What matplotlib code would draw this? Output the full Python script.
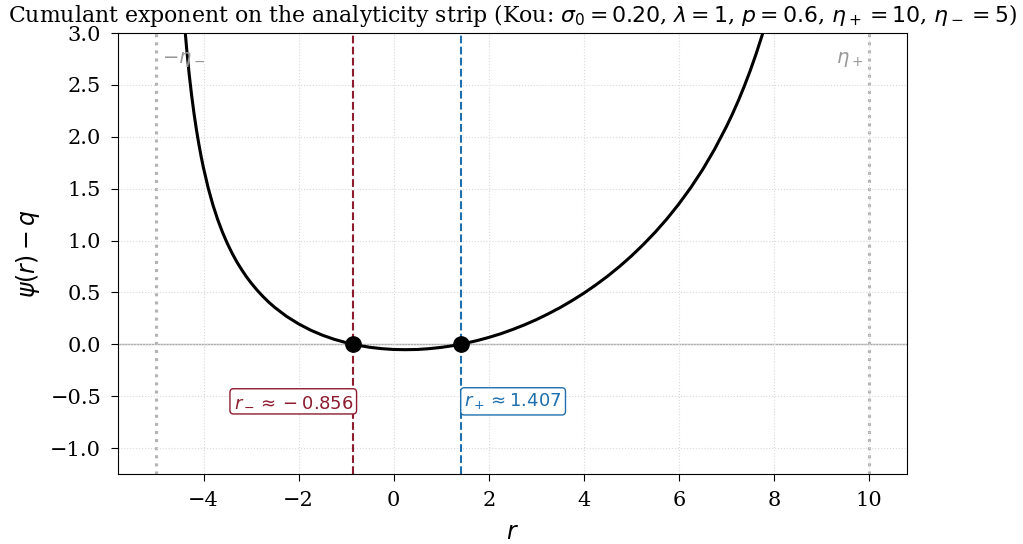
import matplotlib
matplotlib.use("Agg")
import matplotlib.pyplot as plt

plt.rcParams['font.family'] = 'DejaVu Serif'
plt.rcParams['mathtext.fontset'] = 'dejavusans'

# values: r and psi(r) - q
r_vals = [-4.45, -4.425, -4.4, -4.35, -4.3, -4.25, -4.2, -4.15, -4.1, -4.05,
          -4.0, -3.9, -3.8, -3.7, -3.6, -3.5, -3.4, -3.3, -3.2, -3.1, -3.0,
          -2.875, -2.75, -2.625, -2.5, -2.25, -2.0, -1.75, -1.5, -1.25, -1.0,
          -0.75, -0.5, -0.25, 0.0, 0.25, 0.5, 0.75, 1.0, 1.25, 1.5, 1.75,
          2.0, 2.25, 2.5, 2.75, 3.0, 3.25, 3.5, 3.75, 4.0, 4.25, 4.5, 4.75,
          5.0, 5.25, 5.5, 5.75, 6.0, 6.25, 6.5, 6.75, 7.0, 7.125, 7.25,
          7.375, 7.5, 7.625, 7.75, 7.875, 8.0]
psi_vals = [3.398, 3.236, 3.087, 2.824, 2.597, 2.399, 2.225, 2.071, 1.934,
            1.810, 1.699, 1.504, 1.340, 1.200, 1.079, 0.973, 0.879, 0.795,
            0.721, 0.653, 0.592, 0.523, 0.461, 0.405, 0.355, 0.268, 0.197,
            0.137, 0.088, 0.048, 0.016, -0.010, -0.029, -0.042, -0.050,
            -0.052, -0.050, -0.042, -0.030, -0.013, 0.009, 0.035, 0.066,
            0.101, 0.142, 0.187, 0.237, 0.293, 0.353, 0.420, 0.492, 0.571,
            0.656, 0.749, 0.850, 0.960, 1.079, 1.209, 1.352, 1.509, 1.683,
            1.878, 2.097, 2.217, 2.346, 2.485, 2.635, 2.798, 2.975, 3.169,
            3.384]

r_minus = -0.856
r_plus = 1.407
eta_minus_line = -5
eta_plus_line = 10
x_ticks = [-4, -2, 0, 2, 4, 6, 8, 10]
y_ticks = [-1.0, -0.5, 0.0, 0.5, 1.0, 1.5, 2.0, 2.5, 3.0]

red_c = '#8c1c2e'
blue_c = '#1f6fae'

fig = plt.figure(figsize=(10.23, 5.44), dpi=100)
ax = fig.add_axes([0.1153, 0.1287, 0.7713, 0.8106])

ax.grid(True, linestyle=':', color='#d9d9d9', linewidth=0.8)
ax.axhline(0, color='#aaaaaa', linewidth=1.0, zorder=1)
ax.axvline(eta_minus_line, color='#b3b3b3', linestyle=':', linewidth=2.2, zorder=1)
ax.axvline(eta_plus_line, color='#b3b3b3', linestyle=':', linewidth=2.2, zorder=1)
ax.axvline(r_minus, color=red_c, linestyle='--', linewidth=1.5, zorder=2)
ax.axvline(r_plus, color=blue_c, linestyle='--', linewidth=1.5, zorder=2)

ax.plot(r_vals, psi_vals, color='black', linewidth=2.2, zorder=3)
ax.plot([r_minus, r_plus], [0, 0], 'o', color='black', markersize=11, zorder=4)

ax.text(eta_minus_line + 0.12, 2.74, r'$-\eta_-$', color='#999999', fontsize=14,
        ha='left', va='center')
ax.text(eta_plus_line - 0.12, 2.74, r'$\eta_+$', color='#999999', fontsize=14,
        ha='right', va='center')

ax.text(r_minus, -0.55, r'$r_- \approx -0.856$', color=red_c, fontsize=13,
        ha='right', va='center', family='DejaVu Sans',
        bbox=dict(boxstyle='round,pad=0.2', facecolor='white', edgecolor=red_c))
ax.text(r_plus + 0.08, -0.55, r'$r_+ \approx 1.407$', color=blue_c, fontsize=13,
        ha='left', va='center', family='DejaVu Sans',
        bbox=dict(boxstyle='round,pad=0.2', facecolor='white', edgecolor=blue_c))

ax.set_xlim(-5.8, 10.8)
ax.set_ylim(-1.25, 3.0)
ax.set_xticks(x_ticks)
ax.set_yticks(y_ticks)
ax.tick_params(labelsize=15, length=5, pad=7)
ax.set_xlabel(r'$r$', fontsize=17, labelpad=8)
ax.set_ylabel(r'$\psi(r) - q$', fontsize=17, labelpad=6)
ax.set_title(r'Cumulant exponent on the analyticity strip (Kou: $\sigma_0 = 0.20$, '
             r'$\lambda = 1$, $p = 0.6$, $\eta_+ = 10$, $\eta_- = 5$)', fontsize=15.8, pad=8)

fig.savefig('out.png', dpi=100)
